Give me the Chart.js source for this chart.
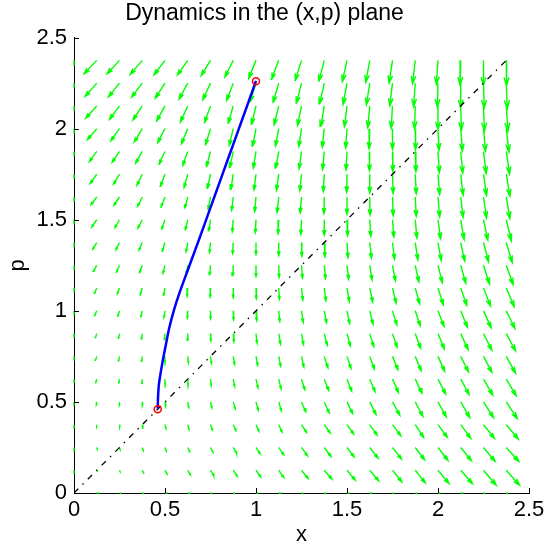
<!DOCTYPE html>
<html>
<head>
<meta charset="utf-8">
<title>Dynamics in the (x,p) plane</title>
<script src="https://cdn.jsdelivr.net/npm/chart.js@4"></script>
<style>
  html, body { margin: 0; padding: 0; background: #ffffff; }
  canvas { display: block; }
</style>
</head>
<body>
<canvas id="phaseChart" width="544" height="548"></canvas>
<script>
// Grid of the vector field (tails of the arrows)
const gridX = [0, 0.125, 0.25, 0.375, 0.5, 0.625, 0.75, 0.875, 1, 1.125, 1.25, 1.375, 1.5, 1.625, 1.75, 1.875, 2, 2.125, 2.25, 2.375];
const gridP = [0, 0.125, 0.25, 0.375, 0.5, 0.625, 0.75, 0.875, 1, 1.125, 1.25, 1.375, 1.5, 1.625, 1.75, 1.875, 2, 2.125, 2.25, 2.375];

// Field components, one row per p value (bottom row first), one entry per x value
const quiverU = [
  [0, 4, 4, 4, 4, 4, 4, 4, 4, 4, 4, 4, 4, 4, 4, 4, 4, 4, 4, 4],
  [0, 1, 2, 4, 6, 8, 10, 12, 14, 15, 20, 23, 25, 27, 28, 30, 33, 35, 38, 40],
  [0, 1, 2, 3, 4, 6, 8, 10, 12, 15, 18, 20, 21, 25, 27, 28, 30, 32, 35, 38],
  [0, 0, 1, 2, 3, 4, 6, 8, 9, 10, 15, 18, 20, 22, 25, 25, 28, 30, 33, 36],
  [0, -1, 0, 1, 2, 3, 4, 6, 7, 8, 13, 15, 17, 19, 22, 23, 25, 27, 30, 33],
  [0, -3, -2, -1, 0, 1, 2, 4, 6, 7, 10, 13, 14, 16, 18, 20, 23, 25, 28, 30],
  [0, -4, -3, -2, 0, 2, 3, 4, 5, 6, 7, 11, 12, 14, 16, 18, 20, 23, 25, 28],
  [0, -4, -3, -2, -1, 0, 1, 2, 3, 5, 6, 9, 10, 12, 14, 16, 19, 22, 25, 28],
  [0, -6, -5, -4, -3, -1, 0, 1, 2, 3, 5, 7, 8, 10, 13, 15, 18, 20, 23, 26],
  [0, -7, -7, -6, -4, -2, -1, 0, 1, 2, 4, 5, 7, 9, 11, 13, 16, 18, 21, 24],
  [0, -10, -9, -8, -6, -4, -2, -1, 0, 1, 3, 4, 5, 7, 9, 11, 13, 15, 18, 21],
  [0, -12, -11, -10, -8, -5, -3, -2, 0, 0, 1, 2, 3, 5, 6, 8, 10, 12, 15, 18],
  [0, -15, -14, -13, -10, -7, -5, -3, -2, -2, -2, 0, 2, 3, 4, 5, 8, 10, 13, 15],
  [0, -17, -17, -14, -12, -9, -7, -5, -4, -5, -4, -1, 0, 1, 2, 3, 5, 7, 9, 11],
  [0, -20, -18, -16, -14, -11, -9, -7, -6, -7, -5, -3, -1, 0, 2, 3, 5, 7, 9, 11],
  [0, -22, -22, -20, -18, -15, -12, -10, -8, -9, -7, -5, -3, -1, 1, 2, 4, 6, 8, 10],
  [0, -28, -26, -24, -22, -19, -15, -12, -10, -10, -8, -6, -4, -2, 0, 1, 3, 5, 6, 8],
  [0, -33, -30, -28, -25, -22, -18, -15, -13, -14, -12, -10, -8, -6, -4, -2, 0, 2, 3, 5],
  [0, -35, -33, -32, -29, -26, -23, -20, -17, -17, -15, -14, -12, -10, -8, -5, -2, 0, 2, 3],
  [0, -38, -37, -36, -33, -31, -28, -25, -22, -22, -19, -16, -14, -12, -10, -8, -5, -2, 0, 1]
];
const quiverV = [
  [0, 0, 0, 0, 0, 0, 0, 0, 0, 0, 0, 0, 0, 0, 0, 0, 0, 0, 0, 0],
  [-1, -2, -5, -8, -11, -14, -16, -18, -20, -22, -25, -27, -30, -32, -35, -38, -40, -40, -45, -45],
  [-1, -5, -7, -9, -11, -13, -15, -17, -19, -22, -25, -27, -28, -32, -35, -37, -39, -40, -42, -42],
  [-1, -7, -8, -10, -12, -14, -16, -18, -20, -22, -23, -25, -28, -31, -33, -38, -38, -41, -41, -43],
  [-1, -9, -10, -12, -14, -16, -18, -21, -25, -27, -30, -33, -35, -38, -40, -43, -45, -47, -47, -50],
  [-2, -11, -12, -13, -15, -17, -19, -22, -26, -29, -32, -34, -36, -38, -40, -42, -45, -46, -48, -50],
  [-2, -12, -14, -15, -17, -19, -21, -24, -27, -30, -32, -34, -36, -38, -40, -43, -45, -46, -48, -50],
  [-2, -12, -14, -16, -18, -20, -22, -25, -28, -31, -33, -35, -37, -39, -41, -44, -46, -48, -50, -52],
  [-2, -14, -16, -18, -20, -22, -24, -27, -30, -32, -34, -36, -38, -40, -42, -45, -47, -49, -51, -53],
  [-2, -16, -18, -20, -22, -25, -27, -29, -32, -34, -36, -38, -40, -42, -45, -47, -50, -52, -54, -56],
  [-3, -18, -20, -22, -24, -26, -28, -31, -34, -36, -38, -40, -42, -44, -47, -50, -52, -54, -56, -58],
  [-3, -20, -22, -23, -26, -28, -30, -33, -36, -39, -41, -43, -45, -47, -50, -52, -54, -56, -58, -60],
  [-3, -22, -24, -25, -28, -30, -33, -36, -39, -42, -44, -46, -48, -50, -52, -55, -57, -59, -61, -63],
  [-3, -23, -25, -28, -30, -33, -36, -40, -44, -47, -48, -50, -52, -54, -56, -58, -60, -61, -63, -65],
  [-3, -28, -30, -33, -36, -40, -42, -45, -47, -48, -50, -52, -54, -56, -58, -59, -61, -63, -64, -66],
  [-4, -30, -32, -35, -38, -42, -45, -48, -50, -50, -52, -54, -56, -58, -60, -61, -63, -65, -66, -68],
  [-4, -33, -36, -40, -42, -45, -48, -50, -52, -52, -54, -56, -58, -60, -62, -63, -65, -67, -68, -70],
  [-4, -37, -40, -42, -45, -48, -50, -52, -55, -57, -59, -61, -63, -65, -67, -69, -71, -73, -75, -76],
  [-4, -40, -41, -42, -45, -48, -50, -52, -55, -58, -60, -62, -64, -65, -68, -70, -72, -74, -75, -77],
  [-5, -40, -40, -42, -43, -44, -46, -50, -54, -57, -60, -62, -64, -66, -68, -70, -72, -74, -75, -76]
];

// Trajectory from the start point down to the fixed line
const trajX = [1.0, 0.96, 0.906, 0.852, 0.798, 0.744, 0.69, 0.635, 0.58, 0.548, 0.522, 0.502, 0.483, 0.467, 0.462, 0.46];
const trajP = [2.262, 2.15, 2.0, 1.85, 1.7, 1.55, 1.4, 1.25, 1.1, 1.0, 0.9, 0.8, 0.7, 0.6, 0.53, 0.463];

// Start and end of the trajectory
const markX = [1.0, 0.46];
const markP = [2.26, 0.46];

// p = x line
const diagX = [0, 2.375];
const diagP = [0, 2.375];

const xTicks = [0, 0.5, 1, 1.5, 2, 2.5];
const yTicks = [0, 0.5, 1, 1.5, 2, 2.5];

// quiver autoscale and arrow head shape (like matlab's quiver)
const quiverScale = 1 / 546;
const headAlpha = 0.33;
const headBeta = 0.3;

function quiverSegments() {
  const pts = [];
  gridP.forEach((p, i) => {
    gridX.forEach((x, j) => {
      const u = quiverU[i][j] * quiverScale;
      const v = quiverV[i][j] * quiverScale;
      const tx = x + u, ty = p + v;
      pts.push({ x: x, y: p }, { x: tx, y: ty }, { x: tx, y: null });
      pts.push(
        { x: tx - headAlpha * (u + headBeta * v), y: ty - headAlpha * (v - headBeta * u) },
        { x: tx, y: ty },
        { x: tx - headAlpha * (u - headBeta * v), y: ty - headAlpha * (v + headBeta * u) },
        { x: tx, y: null }
      );
    });
  });
  return pts;
}

const zip = (xs, ys) => xs.map((x, i) => ({ x: x, y: ys[i] }));

// tick marks drawn inside the axes
const innerTicks = {
  id: 'innerTicks',
  afterDraw(chart) {
    const { ctx, chartArea: a, scales } = chart;
    ctx.save();
    ctx.strokeStyle = '#000000';
    ctx.lineWidth = 1;
    ctx.beginPath();
    xTicks.forEach(t => {
      const px = Math.round(scales.x.getPixelForValue(t)) + 0.5;
      ctx.moveTo(px, a.bottom);
      ctx.lineTo(px, a.bottom - 5);
    });
    yTicks.forEach(t => {
      const py = Math.round(scales.y.getPixelForValue(t)) + 0.5;
      ctx.moveTo(a.left, py);
      ctx.lineTo(a.left + 5, py);
    });
    ctx.stroke();
    ctx.restore();
  }
};

Chart.defaults.font.family = '"Liberation Sans", Arial, Helvetica, sans-serif';
Chart.defaults.color = '#000000';

const ctx = document.getElementById('phaseChart').getContext('2d');
const chart = new Chart(ctx, {
  type: 'scatter',
  data: {
    datasets: [
      {
        label: 'endpoints',
        data: zip(markX, markP),
        showLine: false,
        pointRadius: 3.5,
        pointBorderWidth: 1.5,
        pointBorderColor: '#ff0000',
        pointBackgroundColor: 'rgba(0,0,0,0)'
      },
      {
        label: 'trajectory',
        data: zip(trajX, trajP),
        showLine: true,
        borderColor: '#0000ff',
        borderWidth: 2.5,
        pointRadius: 0,
        tension: 0.3
      },
      {
        label: 'p = x',
        data: zip(diagX, diagP),
        showLine: true,
        borderColor: '#000000',
        borderWidth: 1.3,
        borderDash: [6, 6, 1.5, 6],
        pointRadius: 0
      },
      {
        label: 'field',
        data: quiverSegments(),
        showLine: true,
        spanGaps: false,
        borderColor: '#00ff00',
        borderWidth: 1.4,
        pointRadius: 0,
        clip: false
      }
    ]
  },
  options: {
    responsive: false,
    animation: false,
    layout: { padding: { left: 0, right: 15, top: 0, bottom: 0 } },
    plugins: {
      legend: { display: false },
      tooltip: { enabled: false },
      title: {
        display: true,
        text: 'Dynamics in the (x,p) plane',
        font: { size: 23, weight: 'normal' },
        padding: { top: 0, bottom: 10 }
      }
    },
    scales: {
      x: {
        type: 'linear',
        min: 0,
        max: 2.5,
        afterBuildTicks: s => { s.ticks = xTicks.map(v => ({ value: v })); },
        ticks: { font: { size: 22 }, padding: 4, maxRotation: 0, autoSkip: false, callback: v => String(v) },
        grid: { display: true, drawOnChartArea: false, drawTicks: false },
        border: { display: true, color: '#000000', width: 1 },
        title: { display: true, text: 'x', font: { size: 22 }, padding: { top: 0, bottom: 0 } },
        afterFit: s => { s.height = 55; s.paddingLeft = 0; s.paddingRight = 0; }
      },
      y: {
        type: 'linear',
        min: 0,
        max: 2.5,
        afterBuildTicks: s => { s.ticks = yTicks.map(v => ({ value: v })); },
        ticks: { font: { size: 22 }, padding: 7, autoSkip: false, callback: v => String(v) },
        grid: { display: true, drawOnChartArea: false, drawTicks: false },
        border: { display: true, color: '#000000', width: 1 },
        title: { display: true, text: 'p', font: { size: 22 }, padding: { top: 5, bottom: 0 } },
        afterFit: s => { s.width = 74; }
      }
    }
  },
  plugins: [innerTicks]
});
</script>
</body>
</html>
